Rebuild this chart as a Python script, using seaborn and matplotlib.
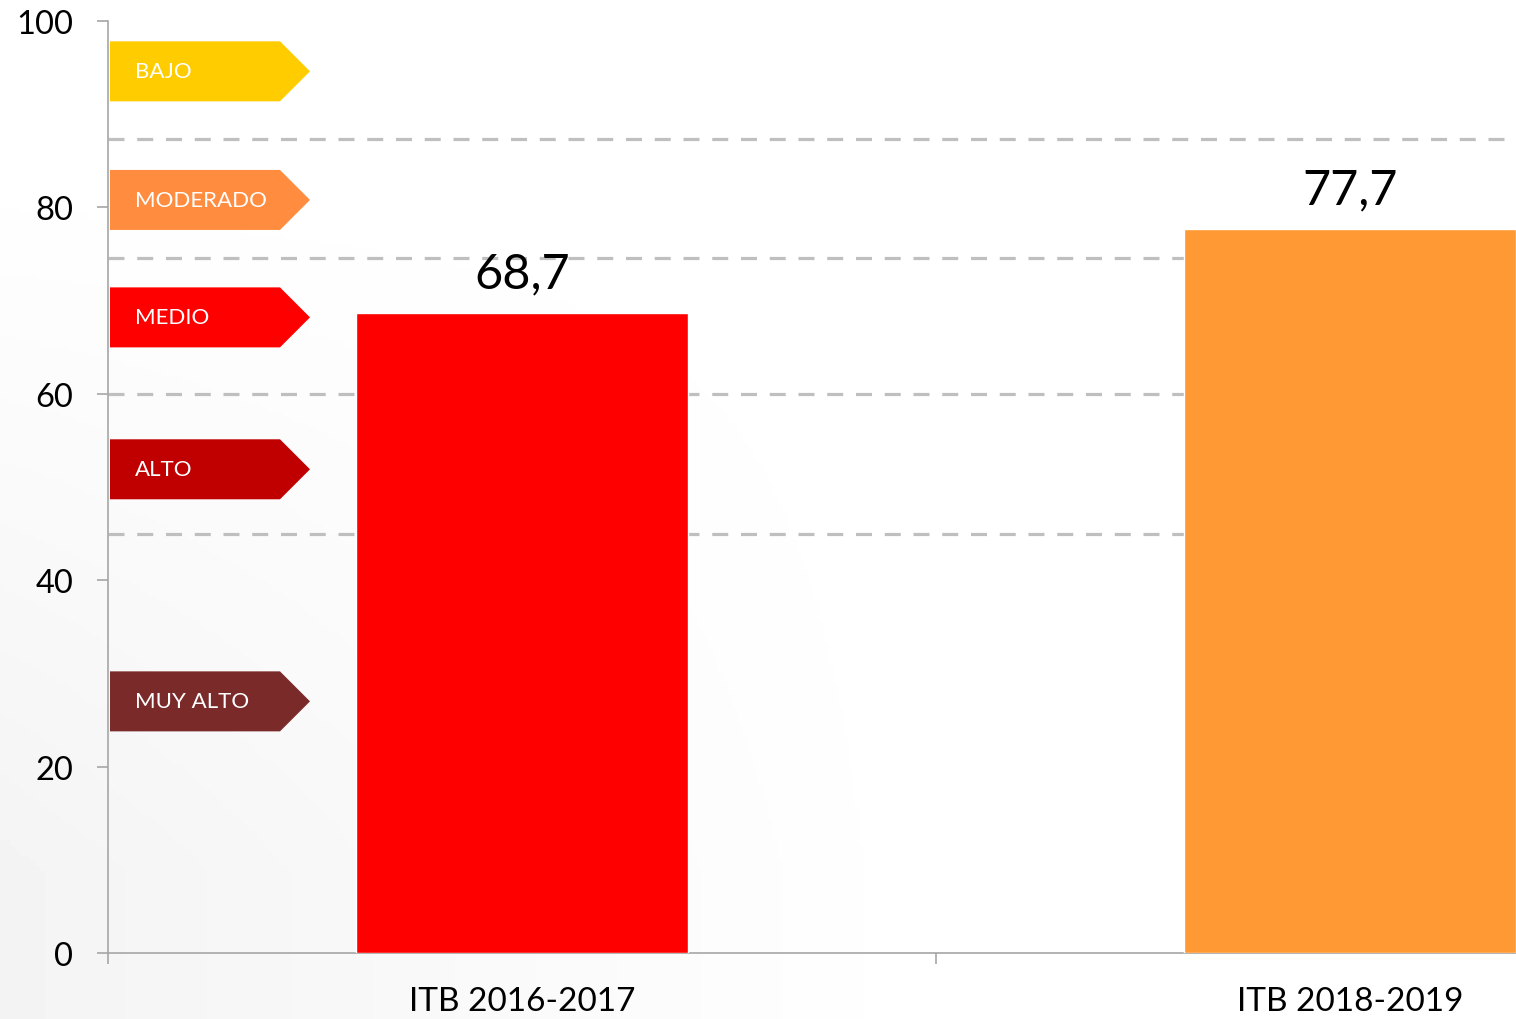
import numpy as np
import pandas as pd
import matplotlib.pyplot as plt
from matplotlib.patches import Polygon
import seaborn as sns

# --- data ---
periods = ["ITB 2016-2017", "ITB 2018-2019"]
scores = [68.7, 77.7]
bar_colors = ["#FF0000", "#FF9933"]

# band limits (dashed lines) and band labels on the left
band_limits = [87.3, 74.6, 60, 45]
band_names = ["BAJO", "MODERADO", "MEDIO", "ALTO", "MUY ALTO"]
band_centers = [94.6, 80.8, 68.2, 51.9, 27.0]
band_colors = ["#FFCC00", "#FF8C3F", "#FF0000", "#C00000", "#7B2A2A"]

y_ticks = [0, 20, 40, 60, 80, 100]

sns.set_theme(style="white")
plt.rcParams["font.family"] = ["Lato", "DejaVu Sans"]

W, H, DPI = 1516, 1020, 100
fig = plt.figure(figsize=(W / DPI, H / DPI), dpi=DPI)

# faint background shading (light grey towards the lower left)
bg = fig.add_axes([0, 0, 1, 1], zorder=-5)
gx, gy = np.meshgrid(np.linspace(0, 1, 300), np.linspace(0, 1, 200))
shade = 1 - 0.045 * np.clip((1 - gx * 1.6), 0, 1) * np.clip(gy * 1.4 - 0.2, 0, 1)
bg.imshow(shade, cmap="gray", vmin=0, vmax=1, aspect="auto", origin="upper",
          extent=[0, 1, 0, 1])
bg.axis("off")

# main axes extends past the right edge (chart cropped like the original)
ax_left, ax_bottom = 108 / W, 66 / H
ax_w, ax_h = 1656 / W, 932 / H
ax = fig.add_axes([ax_left, ax_bottom, ax_w, ax_h])
ax.set_facecolor("none")

df = pd.DataFrame({"period": periods, "score": scores})
sns.barplot(data=df, x="period", y="score", hue="period", palette=bar_colors,
            width=0.4, legend=False, saturation=1, ax=ax, zorder=3)

for y in band_limits:
    ax.axhline(y, color="#BFBFBF", lw=2.3, dashes=(5, 4), zorder=1)

for i, v in enumerate(scores):
    ax.annotate(f"{v:.1f}".replace(".", ","), (i, v), xytext=(0, 18),
                textcoords="offset points", ha="center", va="baseline",
                fontsize=35, color="black", zorder=6)

# arrow-shaped band labels
px = 1 / 828  # data units per pixel along x
x0, x1, x2 = -0.5 + 2 * px, -0.5 + 172 * px, -0.5 + 202 * px
half = 30 / 9.32
for name, yc, col in zip(band_names, band_centers, band_colors):
    pts = [(x0, yc - half), (x1, yc - half), (x2, yc), (x1, yc + half), (x0, yc + half)]
    ax.add_patch(Polygon(pts, closed=True, facecolor=col, edgecolor="none", zorder=4))
    ax.text(-0.5 + 27 * px, yc, name, color="white", fontsize=16,
            ha="left", va="center", zorder=5)

ax.set_xlim(-0.5, 1.5)
ax.set_ylim(0, 100)
ax.set_yticks(y_ticks)
ax.set_xlabel("")
ax.set_ylabel("")

sns.despine(ax=ax)
for s in ["left", "bottom"]:
    ax.spines[s].set_color("#A6A6A6")
    ax.spines[s].set_linewidth(1.2)

ax.tick_params(axis="y", which="major", left=True, length=8, width=1.2,
               color="#A6A6A6", pad=17, labelsize=23.5, labelcolor="black")
ax.set_xticks([-0.5, 0.5, 1.5], minor=True)
ax.tick_params(axis="x", which="minor", bottom=True, length=8, width=1.2,
               color="#A6A6A6")
ax.tick_params(axis="x", which="major", bottom=False, length=0, pad=24,
               labelsize=24, labelcolor="black")

fig.savefig("out.png", dpi=DPI)
